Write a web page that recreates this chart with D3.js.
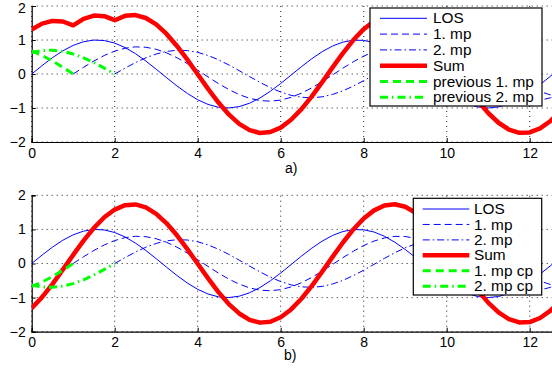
<!DOCTYPE html>
<html><head><meta charset="utf-8">
<script src="https://cdn.jsdelivr.net/npm/d3@7"></script>
<style>html,body{margin:0;padding:0;background:#fff;}svg{display:block;}</style>
</head><body>
<script>
// sample positions (x)
const X = [0,0.25,0.5,0.75,1,1.25,1.5,1.75,2,2.25,2.5,2.75,3,3.25,3.5,3.75,4,4.25,4.5,4.75,5,5.25,5.5,5.75,6,6.25,6.5,6.75,7,7.25,7.5,7.75,8,8.25,8.5,8.75,9,9.25,9.5,9.75,10,10.25,10.5,10.75,11,11.25,11.5,11.75,12,12.25,12.5,12.75];
const LOS = [0,0.247,0.479,0.682,0.841,0.949,0.998,0.984,0.909,0.778,0.599,0.382,0.141,-0.108,-0.351,-0.572,-0.757,-0.895,-0.978,-0.999,-0.959,-0.859,-0.706,-0.508,-0.279,-0.033,0.215,0.450,0.657,0.823,0.938,0.995,0.989,0.923,0.799,0.625,0.412,0.174,-0.075,-0.320,-0.544,-0.735,-0.880,-0.970,-1.000,-0.968,-0.876,-0.729,-0.537,-0.311,-0.066,0.183];
const MP1 = [null,null,null,null,0,0.198,0.384,0.545,0.673,0.759,0.798,0.787,0.727,0.622,0.479,0.305,0.113,-0.087,-0.281,-0.457,-0.605,-0.716,-0.782,-0.799,-0.767,-0.687,-0.564,-0.407,-0.224,-0.027,0.172,0.360,0.526,0.658,0.750,0.796,0.792,0.738,0.639,0.500,0.330,0.139,-0.060,-0.256,-0.435,-0.588,-0.704,-0.776,-0.800,-0.774,-0.700,-0.583];
const MP2 = [null,null,null,null,null,null,null,null,0,0.173,0.336,0.477,0.589,0.664,0.698,0.689,0.637,0.545,0.419,0.267,0.099,-0.076,-0.246,-0.400,-0.530,-0.627,-0.684,-0.700,-0.671,-0.601,-0.494,-0.356,-0.196,-0.023,0.151,0.315,0.460,0.576,0.657,0.696,0.693,0.646,0.559,0.437,0.288,0.122,-0.053,-0.224,-0.381,-0.514,-0.616,-0.679];
const SUM_A = [1.310,1.481,1.561,1.544,1.431,1.624,1.718,1.702,1.582,1.710,1.733,1.646,1.457,1.178,0.826,0.422,-0.007,-0.437,-0.840,-1.189,-1.465,-1.651,-1.734,-1.707,-1.576,-1.347,-1.033,-0.657,-0.238,0.195,0.616,0.999,1.319,1.558,1.700,1.736,1.664,1.488,1.221,0.877,0.479,0.050,-0.381,-0.789,-1.147,-1.434,-1.633,-1.729,-1.718,-1.599,-1.382,-1.079];
const SUM_B = [-1.310,-0.987,-0.603,-0.180,0.253,0.670,1.046,1.356,1.582,1.710,1.733,1.646,1.457,1.178,0.826,0.422,-0.007,-0.437,-0.840,-1.189,-1.465,-1.651,-1.734,-1.707,-1.576,-1.347,-1.033,-0.657,-0.238,0.195,0.616,0.999,1.319,1.558,1.700,1.736,1.664,1.488,1.221,0.877,0.479,0.050,-0.381,-0.789,-1.147,-1.434,-1.633,-1.729,-1.718,-1.599,-1.382,-1.079];
const PREV1 = [0.673,0.545,0.384,0.198,0];
const PREV2 = [0.637,0.689,0.698,0.664,0.589,0.477,0.336,0.173,0];
const CP1 = [-0.673,-0.545,-0.384,-0.198,0];
const CP2 = [-0.637,-0.689,-0.698,-0.664,-0.589,-0.477,-0.336,-0.173,0];
const XTICKS = [0,2,4,6,8,10,12];
const YTICKS = [-2,-1,0,1,2];
const LEGEND_A = ["LOS","1. mp","2. mp","Sum","previous 1. mp","previous 2. mp"];
const LEGEND_B = ["LOS","1. mp","2. mp","Sum","1. mp cp","2. mp cp"];

const W = 552, H = 374;
const svg = d3.select("body").append("svg").attr("width", W).attr("height", H)
  .style("font-family", "'Liberation Sans', Arial, Helvetica, sans-serif");

const x = d3.scaleLinear().domain([0, 4*Math.PI]).range([31.7, 31.7 + 41.5*4*Math.PI]);

const styles = [
  {color:"#0000ff", w:1, dash:null},
  {color:"#0000ff", w:1, dash:"7,4"},
  {color:"#0000ff", w:1, dash:"7,3,1.5,3"},
  {color:"#ff0000", w:4.5, dash:null},
  {color:"#00ff00", w:3, dash:"8,5"},
  {color:"#00ff00", w:3, dash:"8,4,1.5,4"}
];

function panel(id, yTop, yBot, series, legendLabels, leg, label) {
  const y = d3.scaleLinear().domain([-2, 2]).range([yBot, yTop]);
  const g = svg.append("g");
  const [x0, x1] = x.range();
  g.append("clipPath").attr("id", "clip" + id).append("rect")
    .attr("x", x0).attr("y", yTop).attr("width", x1 - x0).attr("height", yBot - yTop);
  // grid
  const grid = g.append("g").attr("stroke", "#222").attr("stroke-width", 1)
    .attr("stroke-dasharray", "1,4").attr("fill", "none");
  XTICKS.forEach(t => grid.append("line").attr("x1", x(t)).attr("x2", x(t)).attr("y1", yBot).attr("y2", yTop));
  YTICKS.forEach(t => grid.append("line").attr("x1", x0).attr("x2", x1).attr("y1", y(t)).attr("y2", y(t)));
  // axes
  const ax = g.append("g").attr("transform", `translate(0,${yBot})`)
    .call(d3.axisBottom(x).tickValues(XTICKS).tickSize(-4).tickPadding(6).tickFormat(d3.format("d")));
  const ay = g.append("g").attr("transform", `translate(${x0},0)`)
    .call(d3.axisLeft(y).tickValues(YTICKS).tickSize(-4).tickPadding(6).tickFormat(d => d < 0 ? "\u2212" + Math.abs(d) : d));
  [ax, ay].forEach(a => {
    a.select(".domain").attr("stroke", "#000").attr("stroke-width", 1.2);
    a.selectAll(".tick line").attr("stroke", "#000");
    a.selectAll("text").attr("fill", "#000").style("font-size", "14px")
      .style("font-family", "'Liberation Sans', Arial, sans-serif");
  });
  ax.selectAll("text").attr("dy", "0.68em");
  // keep the top label inside the picture
  ay.selectAll(".tick text").filter(d => y(d) < 9).attr("dy", "0.45em");
  // lines
  const plot = g.append("g").attr("clip-path", `url(#clip${id})`);
  series.forEach((s, i) => {
    const st = styles[i];
    const pts = s.map((v, k) => [X[k], v]).filter(d => d[1] !== null);
    const line = d3.line().x(d => x(d[0])).y(d => y(d[1]));
    plot.append("path").attr("d", line(pts)).attr("fill", "none")
      .attr("stroke", st.color).attr("stroke-width", st.w)
      .attr("stroke-dasharray", st.dash).attr("stroke-linejoin", "round");
  });
  // legend
  const lg = g.append("g");
  lg.append("rect").attr("x", leg.x).attr("y", leg.y).attr("width", leg.w).attr("height", leg.h)
    .attr("fill", "#fff").attr("stroke", "#000").attr("stroke-width", 1.2);
  legendLabels.forEach((lab, i) => {
    const st = styles[i];
    const ry = leg.row0 + i * leg.step;
    lg.append("line").attr("x1", leg.lx0).attr("x2", leg.lx1).attr("y1", ry).attr("y2", ry)
      .attr("stroke", st.color).attr("stroke-width", st.w).attr("stroke-dasharray", st.dash);
    lg.append("text").attr("transform", `translate(${leg.tx},${ry}) scale(1.1,1)`)
      .attr("dy", "0.36em").style("font-size", "14px").attr("fill", "#000").text(lab);
  });
  g.append("text").attr("x", label.x).attr("y", label.y).style("font-size", "14px").attr("fill", "#000").text(label.t);
}

// series must follow x positions in X
function pad(arr) { return X.map((_, k) => k < arr.length ? arr[k] : null); }

panel("a", 6, 142, [LOS, MP1, MP2, SUM_A, pad(PREV1), pad(PREV2)], LEGEND_A,
  {x:370, y:8, w:172, h:98, lx0:380, lx1:427, tx:433, row0:18.3, step:15.8},
  {x:285, y:173, t:"a)"});
panel("b", 195.3, 331.7, [LOS, MP1, MP2, SUM_B, pad(CP1), pad(CP2)], LEGEND_B,
  {x:413.3, y:198.3, w:128.4, h:96.7, lx0:422.7, lx1:469.3, tx:474, row0:209, step:15.45},
  {x:284, y:360, t:"b)"});
</script>
</body></html>
